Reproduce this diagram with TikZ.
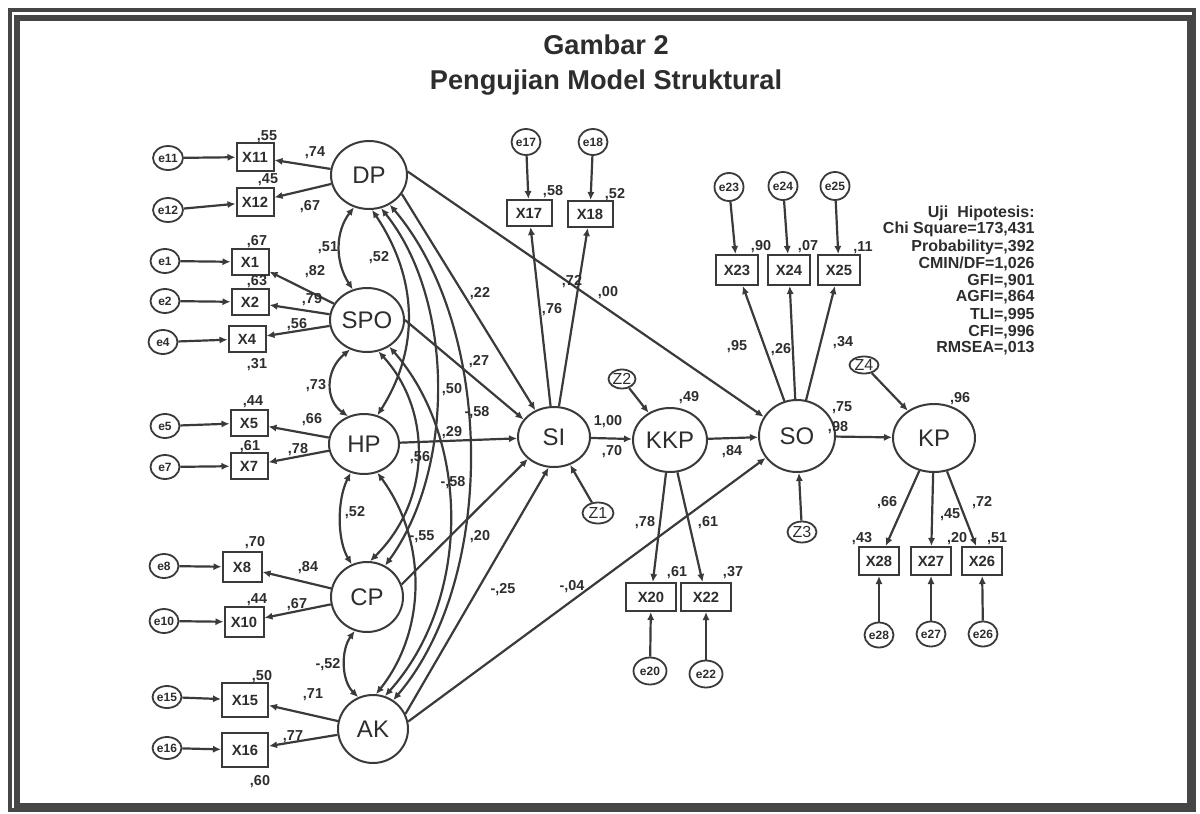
\documentclass[tikz,border=0pt]{standalone}
\usepackage{fontspec}
\setmainfont{Liberation Sans}
\usepackage{tikz}
\usetikzlibrary{shapes.geometric,arrows.meta}
\definecolor{linegray}{RGB}{58,58,58}
\definecolor{textgray}{RGB}{45,45,45}
\definecolor{framegray}{RGB}{70,70,70}

\begin{document}
\begin{tikzpicture}[
    x=0.5pt, y=-0.5pt,
    latent/.style={ellipse, draw=linegray, line width=1pt, inner sep=0pt, minimum width=37pt, minimum height=32pt, text=textgray, font=\fontsize{12}{14}\selectfont},
    observed/.style={rectangle, draw=linegray, line width=1pt, inner sep=0pt, minimum width=18.5pt, minimum height=13pt, text=textgray, font=\fontsize{7.4}{9}\selectfont\bfseries},
    errc/.style={ellipse, draw=linegray, line width=0.9pt, inner sep=0pt, minimum width=14.5pt, minimum height=13pt, text=textgray, font=\fontsize{6}{7}\selectfont\bfseries},
    disturb/.style={ellipse, draw=linegray, line width=0.9pt, inner sep=0pt, minimum width=14.5pt, minimum height=10pt, text=textgray, font=\fontsize{8}{9}\selectfont},
    estimate/.style={text=textgray, inner sep=0pt, font=\fontsize{7.2}{8}\selectfont\bfseries},
    heading/.style={text=textgray, align=center, inner sep=0pt, font=\fontsize{13.6}{17.5}\selectfont\bfseries},
    fitbox/.style={text=textgray, align=right, inner sep=0pt, font=\fontsize{8}{8.5}\selectfont\bfseries},
    effect/.style={-{Latex[length=4pt,width=3.6pt]}, line width=1.1pt, draw=linegray},
    covar/.style={{Latex[length=4pt,width=3.6pt]}-{Latex[length=4pt,width=3.6pt]}, line width=1.1pt, draw=linegray}
]

    % Frame and title
    \useasboundingbox (0,0) rectangle (1200,814);
    \draw[framegray, line width=1.6pt] (10,10) rectangle (1194,810);
    \draw[framegray, line width=2.8pt] (17,18) rectangle (1190,806);
    \node[heading] (title) at (606,65) {Gambar 2\\Pengujian Model Struktural};

    % Exogenous latent variables
    \node[latent, minimum width=38pt, minimum height=34pt] (DP) at (369,175) {DP};
    \node[latent] (SPO) at (367,320) {SPO};
    \node[latent, minimum width=35pt, minimum height=30pt] (HP) at (364,444) {HP};
    \node[latent, minimum width=36pt, minimum height=35pt] (CP) at (367,597) {CP};
    \node[latent, minimum width=35pt, minimum height=34pt] (AK) at (373,729) {AK};

    % Endogenous latent variables
    \node[latent, minimum width=36pt, minimum height=30pt] (SI) at (554,437) {SI};
    \node[latent] (KKP) at (670,440) {KKP};
    \node[latent, minimum width=38pt, minimum height=36pt] (SO) at (797,436) {SO};
    \node[latent, minimum width=41pt, minimum height=34pt] (KP) at (934,438) {KP};

    % Indicators
    \node[observed, minimum height=14pt] (X11) at (255,157) {X11};
    \node[observed, minimum height=14pt] (X12) at (255,202) {X12};
    \node[observed] (X1) at (250,262) {X1};
    \node[observed] (X2) at (250,302) {X2};
    \node[observed] (X4) at (247,339) {X4};
    \node[observed] (X5) at (249,423) {X5};
    \node[observed] (X7) at (249,466) {X7};
    \node[observed, minimum width=19.5pt, minimum height=15pt] (X8) at (242,567) {X8};
    \node[observed, minimum width=19.5pt, minimum height=15pt] (X10) at (244,622) {X10};
    \node[observed, minimum width=23pt, minimum height=17pt] (X15) at (245,700) {X15};
    \node[observed, minimum width=23pt, minimum height=17pt] (X16) at (245,750) {X16};
    \node[observed, minimum width=22.5pt] (X17) at (529,213) {X17};
    \node[observed, minimum width=22.5pt] (X18) at (590,214) {X18};
    \node[observed, minimum width=25pt, minimum height=14pt] (X20) at (651,597) {X20};
    \node[observed, minimum width=25pt, minimum height=14pt] (X22) at (706,597) {X22};
    \node[observed, minimum width=21pt, minimum height=15pt] (X23) at (737,270) {X23};
    \node[observed, minimum width=21pt, minimum height=15pt] (X24) at (789,270) {X24};
    \node[observed, minimum width=21pt, minimum height=15pt] (X25) at (839,270) {X25};
    \node[observed, minimum width=20pt, minimum height=14pt] (X28) at (879,561) {X28};
    \node[observed, minimum width=20pt, minimum height=14pt] (X27) at (931,561) {X27};
    \node[observed, minimum width=20pt, minimum height=14pt] (X26) at (982,561) {X26};

    % Error terms
    \node[errc, minimum width=15pt, minimum height=12pt] (e11) at (168,158) {e11};
    \node[errc, minimum width=15pt, minimum height=12pt] (e12) at (168,210) {e12};
    \node[errc, minimum height=12pt] (e1) at (165,261) {e1};
    \node[errc, minimum height=12pt] (e2) at (165,301) {e2};
    \node[errc, minimum height=12pt] (e4) at (163,342) {e4};
    \node[errc, minimum height=12pt] (e5) at (165,426) {e5};
    \node[errc, minimum height=12pt] (e7) at (165,467) {e7};
    \node[errc, minimum height=12pt] (e8) at (164,566) {e8};
    \node[errc, minimum height=12pt] (e10) at (164,621) {e10};
    \node[errc, minimum height=11pt] (e15) at (167,697) {e15};
    \node[errc, minimum height=11pt] (e16) at (167,748) {e16};
    \node[errc] (e17) at (526,142) {e17};
    \node[errc] (e18) at (593,142) {e18};
    \node[errc, minimum width=16.5pt, minimum height=13.5pt] (e20) at (650,671) {e20};
    \node[errc, minimum width=16.5pt, minimum height=13.5pt] (e22) at (706,674) {e22};
    \node[errc, minimum height=14pt] (e23) at (729,187) {e23};
    \node[errc, minimum height=14pt] (e24) at (783,186) {e24};
    \node[errc, minimum height=14pt] (e25) at (835,186) {e25};
    \node[errc, minimum height=12.5pt] (e28) at (879,635) {e28};
    \node[errc, minimum height=12.5pt] (e27) at (931,634) {e27};
    \node[errc, minimum height=12.5pt] (e26) at (983,634) {e26};

    % Disturbances
    \node[disturb, minimum width=15.5pt, minimum height=10.5pt] (Z1) at (598,513) {Z1};
    \node[disturb, minimum width=13.5pt, minimum height=9.5pt] (Z2) at (622,379) {Z2};
    \node[disturb, minimum height=10.5pt] (Z3) at (802,532) {Z3};
    \node[disturb, minimum height=8.5pt] (Z4) at (864,365) {Z4};

    % Fit statistics
    \node[fitbox, anchor=north east] (fit) at (1035,205) {\lineskiplimit=-5pt Uji\ \ Hipotesis:\\Chi Square=173,431\\Probability=,392\\CMIN/DF=1,026\\GFI=,901\\AGFI=,864\\TLI=,995\\CFI=,996\\RMSEA=,013};

    % Error and disturbance arrows
    \draw[effect] (e11) -- (X11);
    \draw[effect] (e12) -- (X12);
    \draw[effect] (e1) -- (X1);
    \draw[effect] (e2) -- (X2);
    \draw[effect] (e4) -- (X4);
    \draw[effect] (e5) -- (X5);
    \draw[effect] (e7) -- (X7);
    \draw[effect] (e8) -- (X8);
    \draw[effect] (e10) -- (X10);
    \draw[effect] (e15) -- (X15);
    \draw[effect] (e16) -- (X16);
    \draw[effect] (e17) -- (X17);
    \draw[effect] (e18) -- (X18);
    \draw[effect] (e20) -- (X20);
    \draw[effect] (e22) -- (X22);
    \draw[effect] (e23) -- (X23);
    \draw[effect] (e24) -- (X24);
    \draw[effect] (e25) -- (X25);
    \draw[effect] (e28) -- (X28);
    \draw[effect] (e27) -- (X27);
    \draw[effect] (e26) -- (X26);
    \draw[effect] (Z1) -- (SI);
    \draw[effect] (Z2) -- (KKP);
    \draw[effect] (Z3) -- (SO);
    \draw[effect] (Z4) -- (KP);

    % Measurement paths
    \draw[effect] (DP) -- (X11);
    \draw[effect] (DP) -- (X12);
    \draw[effect] (SPO) -- (X1);
    \draw[effect] (SPO) -- (X2);
    \draw[effect] (SPO) -- (X4);
    \draw[effect] (HP) -- (X5);
    \draw[effect] (HP) -- (X7);
    \draw[effect] (CP) -- (X8);
    \draw[effect] (CP) -- (X10);
    \draw[effect] (AK) -- (X15);
    \draw[effect] (AK) -- (X16);
    \draw[effect] (SI) -- (X17);
    \draw[effect] (SI) -- (X18);
    \draw[effect] (KKP) -- (X20);
    \draw[effect] (KKP) -- (X22);
    \draw[effect] (SO) -- (X23);
    \draw[effect] (SO) -- (X24);
    \draw[effect] (SO) -- (X25);
    \draw[effect] (KP) -- (X28);
    \draw[effect] (KP) -- (X27);
    \draw[effect] (KP) -- (X26);

    % Structural paths
    \draw[effect] (DP.-30) -- (SI.125);
    \draw[effect] (SPO.east) -- (SI.150);
    \draw[effect] (HP) -- (SI);
    \draw[effect] (CP.20) -- (SI.-140);
    \draw[effect] (AK.25) -- (SI.-100);
    \draw[effect] (AK.12) -- (SO.-145);
    \draw[effect] (DP.5) -- (SO.150);
    \draw[effect] (SI) -- (KKP);
    \draw[effect] (KKP) -- (SO);
    \draw[effect] (SO) -- (KP);

    % Covariances among exogenous variables
    \draw[covar] (DP.-115) .. controls (335,232) and (335,262) .. (SPO.115);
    \draw[covar] (SPO.-120) .. controls (325,370) and (325,400) .. (HP.120);
    \draw[covar] (HP.-115) .. controls (337,500) and (337,540) .. (CP.115);
    \draw[covar] (CP.-110) .. controls (341,650) and (341,680) .. (AK.115);
    \draw[covar] (DP.-85) .. controls (419,280) and (419,350) .. (HP.65);
    \draw[covar] (DP.-70) .. controls (455,300) and (455,470) .. (CP.60);
    \draw[covar] (DP.-55) .. controls (496,330) and (496,580) .. (AK.55);
    \draw[covar] (SPO.-70) .. controls (432,410) and (432,500) .. (CP.85);
    \draw[covar] (SPO.-50) .. controls (471,440) and (471,600) .. (AK.70);
    \draw[covar] (HP.-65) .. controls (427,540) and (427,630) .. (AK.85);

    % Loadings and squared correlations, left block
    \node[estimate] (kDPX11) at (315,153) {,74};
    \node[estimate] (rX11) at (267,137) {,55};
    \node[estimate] (kDPX12) at (310,207) {,67};
    \node[estimate] (rX12) at (268,180) {,45};
    \node[estimate] (kSPOX1) at (315,272) {,82};
    \node[estimate] (rX1) at (257,242) {,67};
    \node[estimate] (kSPOX2) at (312,300) {,79};
    \node[estimate] (rX2) at (257,282) {,63};
    \node[estimate] (kSPOX4) at (297,325) {,56};
    \node[estimate] (rX4) at (257,365) {,31};
    \node[estimate] (kHPX5) at (312,420) {,66};
    \node[estimate] (rX5) at (253,402) {,44};
    \node[estimate] (kHPX7) at (298,450) {,78};
    \node[estimate] (rX7) at (250,447) {,61};
    \node[estimate] (kCPX8) at (308,568) {,84};
    \node[estimate] (rX8) at (255,543) {,70};
    \node[estimate] (kCPX10) at (297,605) {,67};
    \node[estimate] (rX10) at (257,600) {,44};
    \node[estimate] (kAKX15) at (313,695) {,71};
    \node[estimate] (rX15) at (262,677) {,50};
    \node[estimate] (kAKX16) at (293,737) {,77};
    \node[estimate] (rX16) at (260,782) {,60};

    % Covariance estimates
    \node[estimate] (cDPSPO) at (328,248) {,51};
    \node[estimate] (cSPOHP) at (316,386) {,73};
    \node[estimate] (cHPCP) at (355,513) {,52};
    \node[estimate] (cCPAK) at (328,665) {-,52};
    \node[estimate] (cDPHP) at (379,258) {,52};
    \node[estimate] (cDPCP) at (452,390) {,50};
    \node[estimate] (cSPOCP) at (420,458) {,56};
    \node[estimate] (cSPOAK) at (453,483) {-,58};
    \node[estimate] (cHPAK) at (422,537) {-,55};
    \node[estimate] (cDPAK) at (477,413) {-,58};

    % Structural estimates
    \node[estimate] (bDPSI) at (480,294) {,22};
    \node[estimate] (bSPOSI) at (479,362) {,27};
    \node[estimate] (bHPSI) at (452,433) {,29};
    \node[estimate] (bCPSI) at (480,537) {,20};
    \node[estimate] (bAKSI) at (503,590) {-,25};
    \node[estimate] (bAKSO) at (572,587) {-,04};
    \node[estimate] (bDPSO) at (608,293) {,00};
    \node[estimate] (rSI) at (608,422) {1,00};
    \node[estimate] (bSIKKP) at (612,452) {,70};
    \node[estimate] (rKKP) at (689,398) {,49};
    \node[estimate] (bKKPSO) at (732,452) {,84};
    \node[estimate] (rSO) at (842,408) {,75};
    \node[estimate] (bSOKP) at (838,428) {,98};
    \node[estimate] (rKP) at (960,399) {,96};

    % Loadings and squared correlations, right block
    \node[estimate] (kSIX17) at (552,310) {,76};
    \node[estimate] (rX17) at (553,192) {,58};
    \node[estimate] (kSIX18) at (572,282) {,72};
    \node[estimate] (rX18) at (615,195) {,52};
    \node[estimate] (kKKPX20) at (645,523) {,78};
    \node[estimate] (rX20) at (677,573) {,61};
    \node[estimate] (kKKPX22) at (708,523) {,61};
    \node[estimate] (rX22) at (733,573) {,37};
    \node[estimate] (kSOX23) at (737,347) {,95};
    \node[estimate] (rX23) at (761,247) {,90};
    \node[estimate] (kSOX24) at (781,350) {,26};
    \node[estimate] (rX24) at (808,247) {,07};
    \node[estimate] (kSOX25) at (843,343) {,34};
    \node[estimate] (rX25) at (863,248) {,11};
    \node[estimate] (kKPX28) at (887,503) {,66};
    \node[estimate] (rX28) at (862,539) {,43};
    \node[estimate] (kKPX27) at (950,515) {,45};
    \node[estimate] (rX27) at (957,539) {,20};
    \node[estimate] (kKPX26) at (982,503) {,72};
    \node[estimate] (rX26) at (997,539) {,51};

\end{tikzpicture}
\end{document}
